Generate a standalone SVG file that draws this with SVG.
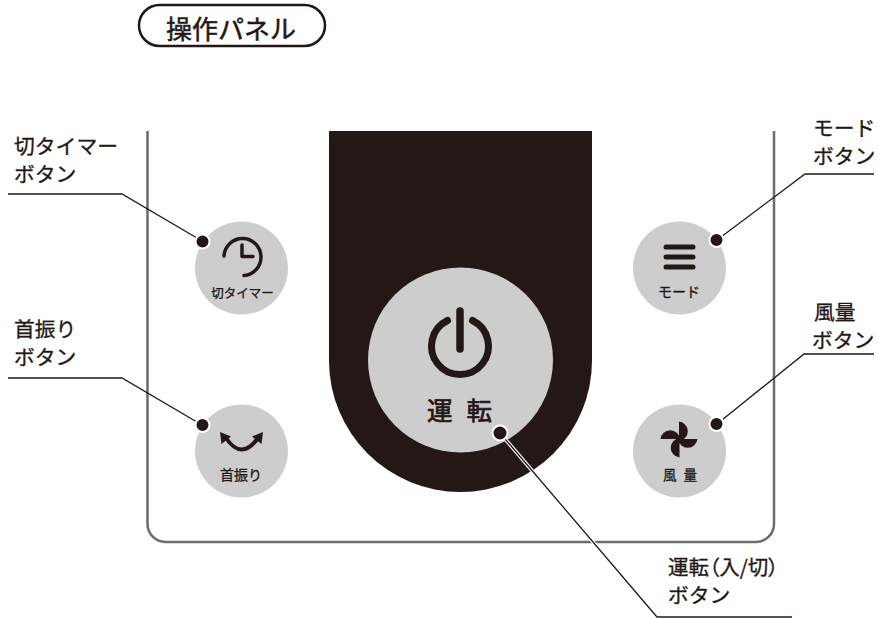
<svg xmlns="http://www.w3.org/2000/svg" width="878" height="618" viewBox="0 0 878 618">
<style>
text{font-family:"Noto Sans CJK JP","Noto Sans",sans-serif;fill:#231815;stroke:#231815;stroke-width:.3}
.lbl{font-size:20.8px}
.small{font-size:12.5px;text-anchor:middle}
.btn{fill:#cdcdcd}
.ico{fill:none;stroke:#231815;stroke-linecap:round;stroke-linejoin:round}
.ld{fill:none;stroke:#231815;stroke-width:1.300}
.halo{fill:none;stroke:#fff;stroke-width:3.600}
.dot{fill:#231815;stroke:#fff;stroke-width:2}
</style>
<rect width="878" height="618" fill="#fff"/>
<g id="title">
<rect x="139" y="5" width="186" height="41" rx="20.500" fill="#fff" stroke="#231815" stroke-width="2.500"/>
<text x="166" y="39" font-size="26" style="stroke-width:.5">操作パネル</text>
</g>
<g id="panel">
<path d="M147.500 131V524a18 18 0 0 0 18 18H756a18 18 0 0 0 18-18V131" fill="none" stroke="#6b6b6b" stroke-width="2.500"/>
<path d="M329 131H592V360.500A131.500 131.500 0 0 1 329 360.500Z" fill="#231815"/>
</g>
<g id="btn-power">
<circle class="btn" cx="460.500" cy="360" r="92.500"/>
<path class="ico" d="M447.500 320.500A28.500 28.500 0 1 0 472.500 320.500" stroke-width="7"/>
<path class="ico" d="M460 311V349" stroke-width="7.500"/>
<text x="427" y="420" font-size="25.500" letter-spacing="14" style="stroke-width:.7">運転</text>
</g>
<g id="btn-timer">
<circle class="btn" cx="241.500" cy="268" r="46.500"/>
<path class="ico" d="M224 256A18.500 18.500 0 1 1 244 275.500" stroke-width="3.500"/>
<path class="ico" d="M242 245V256.500H253" stroke-width="3.500"/>
<text class="small" x="242.500" y="298">切タイマー</text>
</g>
<g id="btn-swing">
<circle class="btn" cx="241.500" cy="451" r="46.500"/>
<path class="ico" d="M226 438Q241.500 461 258 438" stroke-width="4"/>
<path d="M220 432L221.500 444L231 436.500Z M263 432L261.500 444L252 436.500Z" fill="#231815"/>
<text class="small" x="241" y="480" style="font-size:14px">首振り</text>
</g>
<g id="btn-mode">
<circle class="btn" cx="679.500" cy="268" r="46.500"/>
<path class="ico" d="M666 247H693M666 257H693M666 267H693" stroke-width="5"/>
<text class="small" x="679" y="297" style="font-size:14px">モード</text>
</g>
<g id="btn-fan">
<circle class="btn" cx="679.500" cy="451" r="46.500"/>
<path d="M679 421.500A9.800 9.800 0 0 1 679 441Z M678 439H697.500A9.800 9.800 0 0 1 678 439Z M679.500 438V457.500A9.800 9.800 0 0 1 679.500 438Z M660.500 439A9.800 9.800 0 0 1 680 439Z" fill="#231815"/>
<text x="663" y="480" font-size="13.500" letter-spacing="7">風量</text>
</g>
<g id="connectors">
<path class="halo" d="M500 433L657 617"/>
<path class="ld" d="M8 194H122L202 241"/>
<path class="ld" d="M8 378H122L202 425"/>
<path class="ld" d="M874 174H805L717 240"/>
<path class="ld" d="M874 354H804L717 424"/>
<path class="ld" d="M500 433L657 617H792"/>
<circle class="dot" cx="202.500" cy="241.500" r="7"/>
<circle class="dot" cx="202.500" cy="425" r="7"/>
<circle class="dot" cx="716.500" cy="240" r="7"/>
<circle class="dot" cx="716.500" cy="424" r="7"/>
<circle class="dot" cx="500" cy="433" r="7.500"/>
</g>
<g id="labels">
<text class="lbl" x="14" y="154">切タイマー</text>
<text class="lbl" x="14" y="182">ボタン</text>
<text class="lbl" x="14" y="337">首振り</text>
<text class="lbl" x="14" y="365">ボタン</text>
<text class="lbl" x="813" y="136">モード</text>
<text class="lbl" x="813" y="164">ボタン</text>
<text class="lbl" x="814" y="320">風量</text>
<text class="lbl" x="812" y="348">ボタン</text>
<text class="lbl" x="668" y="575" style="font-size:20.5px;font-feature-settings:'palt'">運転（入/切）</text>
<text class="lbl" x="668" y="603">ボタン</text>
</g>
</svg>
